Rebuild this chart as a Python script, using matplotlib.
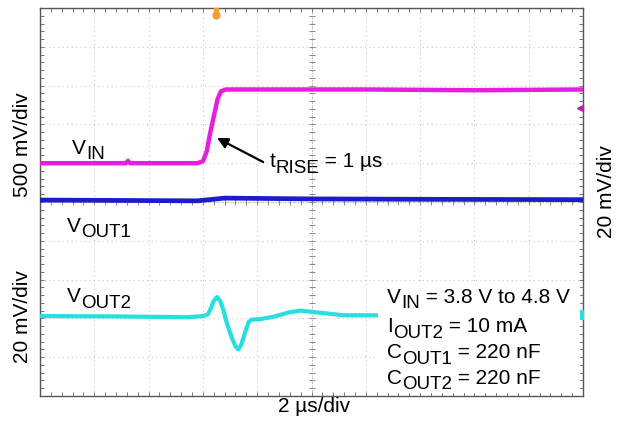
import numpy as np
import matplotlib.pyplot as plt

plt.rcParams['font.family'] = ['Liberation Sans', 'DejaVu Sans']

# screen coordinates in scope divisions (10 x 10 grid, 2 us/div)
vin_x = [0, 1.58, 1.62, 1.66, 2.9, 3.0, 3.07, 3.13, 3.2, 3.27, 3.33, 3.42, 6.0, 8.0, 10.0]
vin_y = [6.0, 6.0, 6.06, 6.0, 6.0, 6.05, 6.3, 6.75, 7.2, 7.65, 7.85, 7.9, 7.9, 7.88, 7.9]

vout1_x = [0, 1.5, 2.9, 3.4, 5.0, 7.0, 10.0]
vout1_y = [5.05, 5.04, 5.03, 5.1, 5.08, 5.07, 5.06]

vout2_x = [0, 1.5, 2.7, 3.0, 3.09, 3.15, 3.2, 3.26, 3.32, 3.38, 3.44, 3.52, 3.6, 3.65, 3.7,
           3.78, 3.84, 3.9, 4.05, 4.29, 4.6, 4.8, 5.2, 5.6, 10.0]
vout2_y = [2.06, 2.05, 2.03, 2.06, 2.1, 2.27, 2.45, 2.55, 2.45, 2.2, 1.88, 1.55, 1.28, 1.2, 1.3,
           1.65, 1.9, 1.97, 1.98, 2.04, 2.16, 2.2, 2.14, 2.08, 2.07]

cond_lines = [
    [("V", 0), ("IN", 1), (" = 3.8 V to 4.8 V", 0)],
    [("I", 0), ("OUT2", 1), (" = 10 mA", 0)],
    [("C", 0), ("OUT1", 1), (" = 220 nF", 0)],
    [("C", 0), ("OUT2", 1), (" = 220 nF", 0)],
]

FS = 15
SUB = 13.5


def sub_label(ax, x, y, pieces, size=FS, zorder=6):
    t = ax.text(x, y, pieces[0][0], fontsize=size, va='baseline', ha='left', zorder=zorder)
    prev_sub = False
    for s, is_sub in pieces[1:]:
        if is_sub and not prev_sub:
            dy = -4
        elif not is_sub and prev_sub:
            dy = 4
        else:
            dy = 0
        t = ax.annotate(s, xy=(1, 0), xycoords=t, xytext=(0, dy), textcoords='offset points',
                        fontsize=SUB if is_sub else size, va='bottom', ha='left', zorder=zorder)
        prev_sub = is_sub


fig = plt.figure(figsize=(6.19, 4.21), dpi=100)
ax = fig.add_axes([40 / 619, 25 / 421, 543 / 619, 388 / 421])
ax.set_xlim(0, 10)
ax.set_ylim(0, 10)

# graticule
for k in range(1, 10):
    ax.axvline(k, color='#c4c4c4', lw=0.8, ls=(0, (1, 3)), zorder=1)
    ax.axhline(k, color='#c4c4c4', lw=0.8, ls=(0, (1, 3)), zorder=1)
ax.axvline(5, color='#9a9a9a', lw=0.6, ls=(0, (1, 2)), zorder=1)
ax.axhline(5, color='#9a9a9a', lw=0.6, ls=(0, (1, 2)), zorder=1)
fine = np.arange(0.2, 10, 0.2)
ax.plot(fine, np.full_like(fine, 5), ls='none', marker='|', ms=5, mew=0.7, color='#888888', zorder=1)
ax.plot(np.full_like(fine, 5), fine, ls='none', marker='_', ms=5, mew=0.7, color='#888888', zorder=1)

ax.set_xticks(np.arange(0, 10.01, 0.2))
ax.set_yticks(np.arange(0, 10.01, 0.2))
ax.tick_params(direction='in', length=3, width=0.7, color='#777777', top=True, right=True,
               labelbottom=False, labelleft=False)
for sp in ax.spines.values():
    sp.set_color('#555555')
    sp.set_linewidth(1.0)

# traces
ax.plot(vin_x, vin_y, color='#e61ee0', lw=3.2, zorder=3, solid_joinstyle='round')
ax.plot(vout1_x, vout1_y, color='#1c1cc8', lw=3.4, zorder=3, solid_joinstyle='round')
ax.plot(vout2_x, vout2_y, color='#28dede', lw=3.0, zorder=3, solid_joinstyle='round')

# channel / trigger markers
ax.plot([3.25], [9.82], marker='o', ms=5, color='#f0a030', clip_on=False, zorder=5)
ax.plot([3.25], [9.95], marker='s', ms=3, color='#f0a030', clip_on=False, zorder=5)
ax.plot([9.95], [7.42], marker='<', ms=4, color='#c020b0', clip_on=False, zorder=5)
ax.plot([9.98], [2.08], marker='|', ms=7, mew=3, color='#28dede', clip_on=False, zorder=5)

# labels on traces
sub_label(ax, 0.59, 6.24, [("V", 0), ("IN", 1)])
sub_label(ax, 0.5, 4.23, [("V", 0), ("OUT1", 1)])
sub_label(ax, 0.5, 2.42, [("V", 0), ("OUT2", 1)])
sub_label(ax, 4.22, 5.9, [("t", 0), ("RISE", 1), (" = 1 µs", 0)])

ax.annotate('', xy=(3.26, 6.65), xytext=(4.11, 6.03),
            arrowprops=dict(arrowstyle='-|>', color='black', lw=1.6, mutation_scale=16,
                            shrinkA=0, shrinkB=0), zorder=6)

# test conditions box
ax.add_patch(plt.Rectangle((6.22, 0.08), 3.72, 2.8, facecolor='white', edgecolor='none', zorder=4))
ys = [2.4, 1.65, 0.98, 0.32]
for y, line in zip(ys, cond_lines):
    sub_label(ax, 6.39, y, line)

fig.text(22 / 619, 1 - 145 / 421, '500 mV/div', rotation=90, fontsize=FS, ha='center', va='center')
fig.text(22 / 619, 1 - 317 / 421, '20 mV/div', rotation=90, fontsize=FS, ha='center', va='center')
fig.text(607 / 619, 1 - 192 / 421, '20 mV/div', rotation=90, fontsize=FS, ha='center', va='center')
fig.text(314 / 619, 1 - 407 / 421, '2 µs/div', fontsize=FS, ha='center', va='center')

fig.savefig('out.png', dpi=100)
